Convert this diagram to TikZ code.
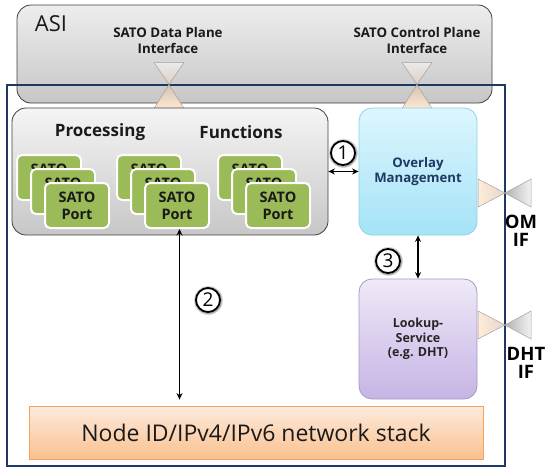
\documentclass[tikz,border=0pt]{standalone}
\usepackage{fontspec}
\setmainfont{Open Sans}
\usetikzlibrary{arrows.meta,shadows}

\definecolor{frameblue}{HTML}{1F3864}
\definecolor{panelline}{HTML}{404040}
\definecolor{cardgreen}{HTML}{9BBB59}
\definecolor{omtop}{HTML}{DDF6FD}
\definecolor{ombot}{HTML}{A4E3F7}
\definecolor{omline}{HTML}{8FD0E6}
\definecolor{lktop}{HTML}{EFE9F8}
\definecolor{lkbot}{HTML}{C6B4E4}
\definecolor{lkline}{HTML}{A898C4}
\definecolor{nettop}{HTML}{FDEBDD}
\definecolor{netbot}{HTML}{FAC08F}
\definecolor{netline}{HTML}{F6A25C}
\definecolor{triline}{HTML}{A8A09A}
\definecolor{txtdark}{HTML}{1A1A1A}

\tikzset{
  fs/.style 2 args={font=\fontsize{#1pt}{#2pt}\selectfont},
  bfs/.style 2 args={font=\bfseries\fontsize{#1pt}{#2pt}\selectfont},
  graypanel/.style={draw=panelline, line width=0.8pt, rounded corners=14pt,
    top color=#1, bottom color=black!22, inner sep=0pt},
  softpanel/.style n args={3}{draw=#3, line width=0.8pt, rounded corners=13pt,
    top color=#1, bottom color=#2, inner sep=0pt},
  card/.style={draw=white, line width=2pt, fill=cardgreen, rounded corners=5pt,
    minimum width=64pt, minimum height=45pt, inner sep=0pt, align=center,
    text=txtdark, bfs={14.5}{17},
    drop shadow={shadow xshift=1pt, shadow yshift=-1pt, opacity=0.25}},
  conn/.style={line width=1.8pt, {Stealth[length=6.5pt,width=6pt]}-{Stealth[length=6.5pt,width=6pt]}},
  numcirc/.style={circle, draw=black, line width=1.8pt, fill=white, minimum size=24pt,
    inner sep=0pt, fs={19}{20}, circular glow={fill=black!35}},
  vglass/.pic={
    \path[draw=triline, line width=0.5pt, top color=white!92!black, bottom color=black!30!brown!30]
      (-15,-22) -- (15,-22) -- (0,0) -- cycle;
    \path[draw=triline, line width=0.5pt, top color=black!35!brown!35, bottom color=orange!18]
      (0,0) -- (15,24) -- (-15,24) -- cycle;
  },
  hglass/.pic={
    \path[draw=triline, line width=0.5pt, left color=orange!15, right color=black!25!brown!25]
      (-27,-14) -- (0,0) -- (-27,14) -- cycle;
    \path[draw=triline, line width=0.5pt, left color=black!30, right color=white!95!black]
      (0,0) -- (26,-14) -- (26,14) -- cycle;
  },
}

\begin{document}
\begin{tikzpicture}[x=1pt, y=-1pt]
\useasboundingbox (0,0) rectangle (546,469);

% application service interface band
\node[graypanel=black!7, minimum width=475pt, minimum height=98pt] (asi) at (254.5,54) {};
\node[fs={22}{24}, text=txtdark] (asilbl) at (51,24) {ASI};
\node[bfs={13.3}{16}, align=center, text=txtdark] (dpif) at (168,41)
  {SATO Data Plane\\Interface};
\node[bfs={13.3}{16}, align=center, text=txtdark] (cpif) at (417,41)
  {SATO Control Plane\\Interface};

% node boundary
\node[draw=frameblue, line width=2.5pt, minimum width=498pt, minimum height=381pt,
  inner sep=0pt] (frame) at (256,275.5) {};

% plane interfaces
\pic at (169,84.5) {vglass};
\pic at (417,84.5) {vglass};
\pic at (505,193) {hglass};
\pic at (505,325) {hglass};

% processing functions with port stacks
\node[graypanel=black!4, minimum width=316pt, minimum height=127pt] (proc) at (170,171.5) {};
\node[bfs={17}{20}, text=txtdark] (proclbl) at (100,132) {Processing};
\node[bfs={17}{20}, text=txtdark] (funclbl) at (241,132) {Functions};
\foreach \s/\x in {1/17,2/117,3/218}
  \foreach \k in {1,2,3}
    \node[card] (p\s\k) at ({\x+14*(\k-1)+32},{155+14*(\k-1)+22.5}) {SATO\\Port};

% overlay management and lookup service
\node[softpanel={omtop}{ombot}{omline}, minimum width=118pt, minimum height=127pt,
  align=center, text=frameblue, bfs={13.2}{15.5}]
  (ovl) at (418,171.5) {Overlay\\Management};
\node[softpanel={lktop}{lkbot}{lkline}, minimum width=118pt, minimum height=120pt,
  align=center, text=black!85, bfs={12.5}{14.5}]
  (look) at (418,339) {Lookup-\\Service\\(e.g. DHT)};

% network stack
\node[draw=netline, line width=0.8pt, top color=nettop, bottom color=netbot,
  minimum width=454pt, minimum height=53pt, inner sep=0pt, text=txtdark,
  fs={23}{26}] (net) at (256,432.5) {Node ID/IPv4/IPv6 network stack};

% external interface labels
\node[bfs={18.5}{18}, align=center, text=black] (omif) at (521,231)
  {OM\\IF};
\node[bfs={18.5}{18}, align=center, text=black] (dhtif) at (526,363)
  {DHT\\IF};

% reference points
\draw[conn] (proc.east) -- (ovl.west);
\draw[conn] (ovl.south) -- (look.north);
\draw[conn, shorten >=6pt] ([xshift=2.5pt]p23.south) -- ([xshift=2.5pt]p23.south |- net.north);

\node[numcirc] (n1) at (343,153) {1};
\node[numcirc] (n2) at (208,300) {2};
\node[numcirc] (n3) at (388,261) {3};
\end{tikzpicture}
\end{document}
